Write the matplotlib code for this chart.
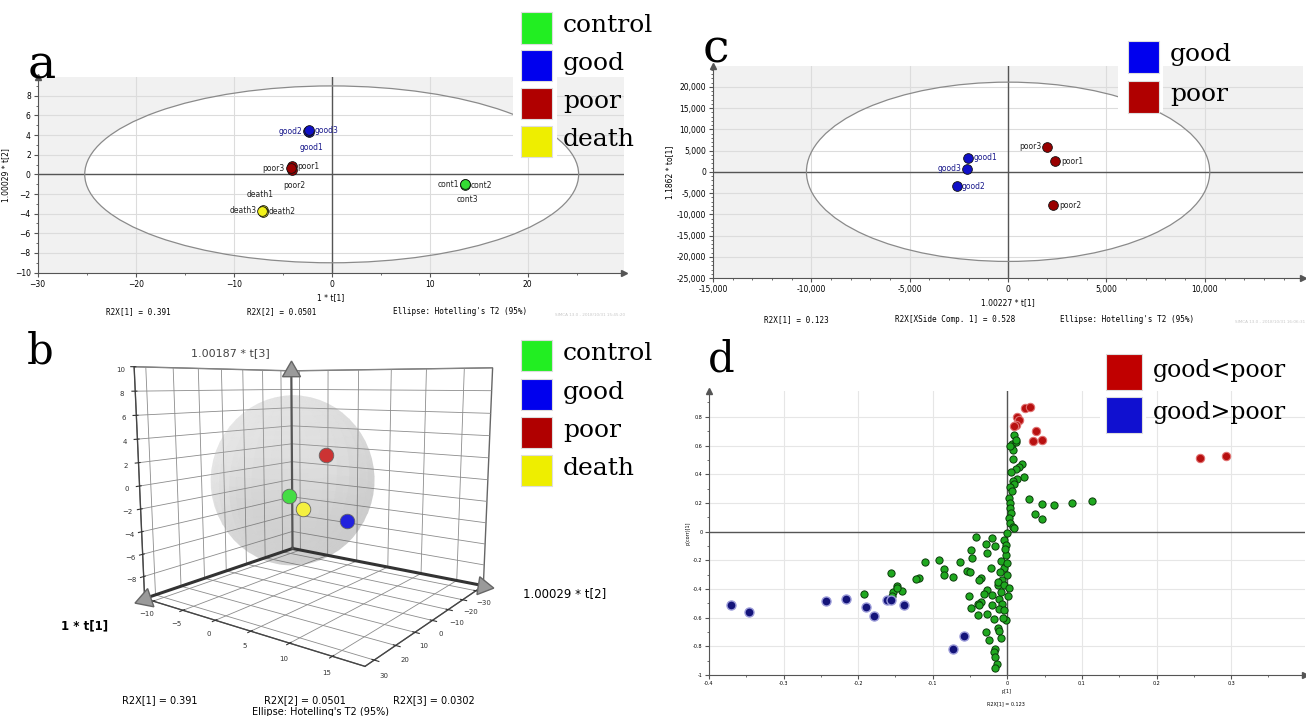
import numpy as np
import matplotlib
matplotlib.use('Agg')
import matplotlib.pyplot as plt
from matplotlib.patches import Ellipse, Rectangle
from matplotlib.ticker import MultipleLocator, FuncFormatter

W, H = 1306, 716

# ---------------- data ----------------
# panel a : PCA scores t[1] / t[2]
a_names = ['cont1', 'cont2', 'cont3', 'good1', 'good2', 'good3',
           'poor1', 'poor2', 'poor3', 'death1', 'death2', 'death3']
a_group = ['control'] * 3 + ['good'] * 3 + ['poor'] * 3 + ['death'] * 3
a_t1 = [13.6, 13.6, 13.6, -2.3, -2.4, -2.3, -4.1, -4.1, -4.2, -7.0, -7.0, -7.1]
a_t2 = [-1.0, -1.1, -1.0, 4.3, 4.4, 4.5, 0.8, 0.4, 0.6, -3.6, -3.8, -3.7]
a_label_pos = ['left', 'right', 'below', 'below', 'left', 'right',
               'right', 'below', 'left', 'above', 'right', 'left']
a_ellipse = (25.2, 9.0)

# panel b : 3D scores (group centres)
b_groups = ['control', 'good', 'poor', 'death']
b_t1 = [13.6, -2.3, -4.1, -7.0]
b_t2 = [3.6, 7.0, 3.6, -0.7]
b_t3 = [-0.5, -3.2, 2.4, -3.0]
b_ellipsoid = (25.2, 9.5, 7.6)

# panel c : OPLS-DA scores
c_names = ['good1', 'good2', 'good3', 'poor1', 'poor2', 'poor3']
c_group = ['good'] * 3 + ['poor'] * 3
c_t1 = [-2040, -2620, -2100, 2400, 2300, 1970]
c_to1 = [3300, -3400, 700, 2500, -7900, 5900]
c_label_pos = ['right', 'right', 'left', 'right', 'right', 'left']
c_ellipse = (10250, 21100)

# panel d : S-plot  p[1] vs p(corr)[1]
d_green_x = [0.006, 0.011, 0.007, 0.007, 0.020, 0.016, 0.011, 0.005, 0.022, 0.013,
             0.008, 0.009, 0.004, 0.006, 0.029, 0.047, 0.063, 0.086, 0.114, 0.037,
             0.046, 0.002, 0.004, 0.004, 0.005, 0.002, 0.004, 0.007, 0.009, 0.000,
             -0.004, -0.020, -0.029, -0.016, -0.002, 0.009, 0.012, 0.004,
             -0.111, -0.092, -0.063, -0.047, -0.085, -0.085, -0.054, -0.050, -0.073, -0.119,
             -0.122, -0.156, -0.148, -0.141, -0.153, -0.154, -0.036, -0.038, -0.022, -0.027,
             -0.049, -0.013, -0.027, -0.031, -0.020, -0.052, -0.036, -0.040, -0.049, -0.020,
             -0.027, -0.018, -0.011, -0.007, -0.011, -0.029, -0.025, -0.013, -0.011, -0.009,
             -0.016, -0.018, -0.014, -0.016, -0.002, -0.009, -0.005, -0.001, -0.007, -0.013,
             -0.004, 0.000, -0.192, -0.148, -0.042, -0.040, -0.038, -0.003, 0.001, -0.004,
             -0.002, -0.008, -0.006, -0.010, 0.002, -0.016]
d_green_y = [0.613, 0.625, 0.566, 0.507, 0.468, 0.449, 0.437, 0.413, 0.383, 0.366,
             0.355, 0.331, 0.308, 0.285, 0.225, 0.195, 0.186, 0.200, 0.216, 0.125,
             0.085, 0.237, 0.202, 0.167, 0.132, 0.096, 0.061, 0.031, 0.026, -0.009,
             -0.056, -0.044, -0.087, -0.103, -0.096, 0.672, 0.640, 0.600,
             -0.213, -0.197, -0.209, -0.185, -0.260, -0.303, -0.275, -0.284, -0.319, -0.321,
             -0.331, -0.291, -0.377, -0.413, -0.420, -0.448, -0.321, -0.338, -0.251, -0.150,
             -0.127, -0.373, -0.408, -0.432, -0.444, -0.448, -0.490, -0.502, -0.533, -0.514,
             -0.573, -0.608, -0.467, -0.502, -0.537, -0.701, -0.754, -0.673, -0.690, -0.744,
             -0.819, -0.842, -0.925, -0.948, -0.162, -0.208, -0.256, -0.303, -0.338, -0.349,
             -0.373, -0.220, -0.432, -0.392, -0.037, -0.580, -0.509, -0.120, -0.450, -0.550,
             -0.620, -0.420, -0.600, -0.280, -0.390, -0.877]
d_red_x = [0.023, 0.031, 0.013, 0.016, 0.011, 0.009, 0.038, 0.034, 0.046, 0.258, 0.293]
d_red_y = [0.864, 0.869, 0.800, 0.780, 0.742, 0.735, 0.700, 0.630, 0.641, 0.512, 0.528]
d_blue_x = [-0.371, -0.347, -0.243, -0.216, -0.190, -0.179, -0.162, -0.156, -0.139, -0.073, -0.058]
d_blue_y = [-0.514, -0.561, -0.486, -0.467, -0.525, -0.589, -0.479, -0.479, -0.509, -0.819, -0.730]

# colours
LEG_COLORS = {'control': '#22ee22', 'good': '#0000ee', 'poor': '#b00000', 'death': '#eeee00',
              'good<poor': '#c00000', 'good>poor': '#1010d0'}
PT_COLORS = {'control': '#33dd33', 'good': '#1010c8', 'poor': '#990000', 'death': '#f2f21a'}
B_COLORS = {'control': '#44dd44', 'good': '#2222dd', 'poor': '#cc3333', 'death': '#f4f040'}
GRID = '#dcdcdc'
AXC = '#555555'


def px_rect(x0, y0, x1, y1):
    return [x0 / W, 1 - y1 / H, (x1 - x0) / W, (y1 - y0) / H]


def fig_text(fig, x, y, s, **kw):
    fig.text(x / W, 1 - y / H, s, **kw)


def legend(fig, x, y, entries, box=31, step=38, size=18, bg=None):
    """Coloured squares + serif names, like the pasted legends"""
    if bg is not None:
        bx0, by0, bx1, by1 = bg
        fig.add_artist(Rectangle((bx0 / W, 1 - by1 / H), (bx1 - bx0) / W, (by1 - by0) / H,
                                 transform=fig.transFigure, facecolor='white',
                                 edgecolor='none', zorder=2))
    for i, name in enumerate(entries):
        cy = y + i * step
        fig.add_artist(Rectangle((x / W, 1 - (cy + box / 2) / H), box / W, box / H,
                                 transform=fig.transFigure, facecolor=LEG_COLORS[name],
                                 edgecolor='#dddddd', linewidth=0.8, zorder=3))
        fig_text(fig, x + box + 11, cy - 2, name, fontsize=size, family='DejaVu Serif',
                 va='center', ha='left', zorder=4)


def arrows(ax):
    ax.plot(1, 0, '>', color=AXC, ms=4, transform=ax.transAxes, clip_on=False)
    ax.plot(0, 1, '^', color=AXC, ms=4, transform=ax.transAxes, clip_on=False)


def simca_frame(ax, gray=True):
    for side in ('top', 'right'):
        ax.spines[side].set_visible(False)
    for side in ('left', 'bottom'):
        ax.spines[side].set_color(AXC)
        ax.spines[side].set_linewidth(0.8)
    ax.set_facecolor('#f1f1f1' if gray else 'white')
    ax.set_axisbelow(True)
    ax.grid(True, color=GRID, linewidth=0.8)
    ax.axhline(0, color=AXC, lw=1.0, zorder=1)
    ax.axvline(0, color=AXC, lw=1.0, zorder=1)
    ax.tick_params(which='both', direction='out', color=AXC, labelsize=5.5, pad=2)
    ax.tick_params(which='major', length=3)
    ax.tick_params(which='minor', length=1.5)
    arrows(ax)


def label_points(ax, xs, ys, names, pos, colors, size=5.5):
    offs = {'left': ((-4, 0), 'right', 'center'), 'right': ((4, 0), 'left', 'center'),
            'below': ((2, -11), 'center', 'center'), 'above': ((-2, 11), 'center', 'center')}
    for x, y, n, p, c in zip(xs, ys, names, pos, colors):
        (dx, dy), ha, va = offs[p]
        ax.annotate(n, (x, y), xytext=(dx, dy), textcoords='offset points',
                    ha=ha, va=va, fontsize=size, color=c)


fig = plt.figure(figsize=(W / 100, H / 100), dpi=100)
fig.patch.set_facecolor('white')

# ---------------- panel a ----------------
ax = fig.add_axes(px_rect(37.7, 76.6, 623.7, 272.6))
simca_frame(ax)
ax.set_xlim(-30, 29.8)
ax.set_ylim(-10, 9.95)
ax.xaxis.set_major_locator(MultipleLocator(10))
ax.xaxis.set_minor_locator(MultipleLocator(5))
ax.yaxis.set_major_locator(MultipleLocator(2))
ax.yaxis.set_minor_locator(MultipleLocator(1))
ax.add_patch(Ellipse((0, 0), 2 * a_ellipse[0], 2 * a_ellipse[1], facecolor='white',
                     edgecolor='none', zorder=0.2))
ax.add_patch(Ellipse((0, 0), 2 * a_ellipse[0], 2 * a_ellipse[1], facecolor='none',
                     edgecolor='#8a8a8a', lw=0.9, zorder=2))
for g in ['control', 'good', 'poor', 'death']:
    idx = [i for i, gg in enumerate(a_group) if gg == g]
    ax.plot([a_t1[i] for i in idx], [a_t2[i] for i in idx], 'o', ms=7,
            color=PT_COLORS[g], mec='#111111', mew=0.6, zorder=4)
label_points(ax, a_t1, a_t2, a_names, a_label_pos,
             ['#1a1a8c' if g == 'good' else '#222222' for g in a_group])
ax.set_xlabel('1 * t[1]', fontsize=5.5, labelpad=3)
ax.set_ylabel('1.00029 * t[2]', fontsize=5.5, labelpad=3)
fig_text(fig, 138, 312, 'R2X[1] = 0.391', fontsize=5.5, family='DejaVu Sans Mono', ha='center', va='center')
fig_text(fig, 282, 312, 'R2X[2] = 0.0501', fontsize=5.5, family='DejaVu Sans Mono', ha='center', va='center')
fig_text(fig, 460, 312, "Ellipse: Hotelling's T2 (95%)", fontsize=5.5, family='DejaVu Sans Mono',
         ha='center', va='center')
fig_text(fig, 590, 315, 'SIMCA 13.0 - 2018/10/31 15:45:20', fontsize=3, color='#c8c8c8',
         ha='center', va='center')
legend(fig, 521, 28, ['control', 'good', 'poor', 'death'], step=37.7, bg=(513, 0, 557, 158))
fig_text(fig, 42, 66, 'a', fontsize=34, family='DejaVu Serif', ha='center', va='center')

# ---------------- panel c ----------------
ax = fig.add_axes(px_rect(713, 66, 1303, 278))
simca_frame(ax)
ax.set_xlim(-15000, 14990)
ax.set_ylim(-25000, 24900)
ax.xaxis.set_major_locator(MultipleLocator(5000))
ax.xaxis.set_minor_locator(MultipleLocator(1000))
ax.yaxis.set_major_locator(MultipleLocator(5000))
ax.yaxis.set_minor_locator(MultipleLocator(1000))
comma = FuncFormatter(lambda v, p: f'{v:,.0f}')
ax.xaxis.set_major_formatter(comma)
ax.yaxis.set_major_formatter(comma)
ax.add_patch(Ellipse((0, 0), 2 * c_ellipse[0], 2 * c_ellipse[1], facecolor='white',
                     edgecolor='none', zorder=0.2))
ax.add_patch(Ellipse((0, 0), 2 * c_ellipse[0], 2 * c_ellipse[1], facecolor='none',
                     edgecolor='#8a8a8a', lw=0.9, zorder=2))
for g in ['good', 'poor']:
    idx = [i for i, gg in enumerate(c_group) if gg == g]
    ax.plot([c_t1[i] for i in idx], [c_to1[i] for i in idx], 'o', ms=7,
            color=PT_COLORS[g], mec='#111111', mew=0.6, zorder=4)
label_points(ax, c_t1, c_to1, c_names, c_label_pos,
             ['#1a1a8c' if g == 'good' else '#222222' for g in c_group])
ax.set_xlabel('1.00227 * t[1]', fontsize=5.5, labelpad=3)
ax.set_ylabel('1.1862 * to[1]', fontsize=5.5, labelpad=2)
fig_text(fig, 796, 320, 'R2X[1] = 0.123', fontsize=5.5, family='DejaVu Sans Mono', ha='center', va='center')
fig_text(fig, 955, 320, 'R2X[XSide Comp. 1] = 0.528', fontsize=5.5, family='DejaVu Sans Mono',
         ha='center', va='center')
fig_text(fig, 1127, 320, "Ellipse: Hotelling's T2 (95%)", fontsize=5.5, family='DejaVu Sans Mono',
         ha='center', va='center')
fig_text(fig, 1270, 322, 'SIMCA 13.0 - 2018/10/31 16:06:31', fontsize=3, color='#c8c8c8',
         ha='center', va='center')
legend(fig, 1128, 57, ['good', 'poor'], step=40, bg=(1118, 60, 1163, 112))
fig_text(fig, 716, 50, 'c', fontsize=34, family='DejaVu Serif', ha='center', va='center')

# ---------------- panel d ----------------
ax = fig.add_axes(px_rect(709, 391, 1305, 675))
simca_frame(ax, gray=False)
ax.grid(True, color='#e6e6e6', linewidth=0.8)
ax.set_xlim(-0.4, 0.399)
ax.set_ylim(-1, 0.98)
ax.xaxis.set_major_locator(MultipleLocator(0.1))
ax.xaxis.set_minor_locator(MultipleLocator(0.05))
ax.yaxis.set_major_locator(MultipleLocator(0.2))
ax.yaxis.set_minor_locator(MultipleLocator(0.1))
ax.xaxis.set_major_formatter(FuncFormatter(lambda v, p: '0' if abs(v) < 1e-9 else f'{v:.1f}'))
ax.yaxis.set_major_formatter(FuncFormatter(lambda v, p: '0' if abs(v) < 1e-9 else ('-1' if v < -0.99 else f'{v:.1f}')))
ax.tick_params(labelsize=3.5, pad=1.5)
ax.plot(d_green_x, d_green_y, 'o', ms=5.2, color='#1fa81f', mec='#0b3d0b', mew=0.7, zorder=4)
ax.plot(d_blue_x, d_blue_y, 'o', ms=6.5, color='#14147a', mec='#9a9ad8', mew=1.0, zorder=5)
ax.plot(d_red_x, d_red_y, 'o', ms=6.0, color='#b81010', mec='#e07070', mew=0.8, zorder=5)
ax.set_xlabel('p[1]', fontsize=3.5, labelpad=2)
ax.set_ylabel('p(corr)[1]', fontsize=3.5, labelpad=2)
fig_text(fig, 1006, 704, 'R2X[1] = 0.123', fontsize=3.5, ha='center', va='center')
legend(fig, 1106, 372, ['good<poor', 'good>poor'], box=36, step=43, size=17, bg=(1100, 350, 1146, 436))
fig_text(fig, 721, 360, 'd', fontsize=30, family='DejaVu Serif', ha='center', va='center')

# ---------------- panel b (3D) ----------------
ax3 = fig.add_axes(px_rect(49, 295, 579, 681), projection='3d', computed_zorder=False)
t1_lim, t2_lim, t3_lim = (-36, 34), (-11.5, 18.5), (-10, 10)
ax3.set_xlim(*t1_lim)
ax3.set_ylim(*t2_lim)
ax3.set_zlim(*t3_lim)
ax3.set_proj_type('persp', focal_length=0.3)
ax3.view_init(elev=9, azim=36)
ax3.set_box_aspect((1.7, 1.85, 1.63), zoom=1.05)
ax3.set_xticks(range(-30, 31, 10))
ax3.set_yticks(range(-10, 16, 5))
ax3.set_zticks(range(-8, 11, 2))
for axis in (ax3.xaxis, ax3.yaxis, ax3.zaxis):
    axis.set_pane_color((1, 1, 1, 1))
    axis.pane.set_edgecolor('#666666')
    axis._axinfo['grid'].update(color='#8c8c8c', linewidth=0.6)
    axis.line.set_color('#444444')
ax3.tick_params(labelsize=5, pad=-3, colors='#333333')
ax3.patch.set_alpha(0)

# Hotelling ellipsoid
u = np.linspace(0, 2 * np.pi, 60)
v = np.linspace(0, np.pi, 30)
ex = b_ellipsoid[0] * np.outer(np.cos(u), np.sin(v))
ey = b_ellipsoid[1] * np.outer(np.sin(u), np.sin(v))
ez = b_ellipsoid[2] * np.outer(np.ones_like(u), np.cos(v))
ax3.plot_surface(ex, ey, ez, color='#d6d6d6', alpha=0.17, linewidth=0, shade=True, zorder=2)

# frame edges + cone tips
ax3.plot([t1_lim[0], t1_lim[1]], [t2_lim[0]] * 2, [t3_lim[0]] * 2, color='#333333', lw=2.2, zorder=3)
ax3.plot([t1_lim[0]] * 2, [t2_lim[0], t2_lim[1]], [t3_lim[0]] * 2, color='#333333', lw=2.2, zorder=3)
ax3.plot([t1_lim[0]] * 2, [t2_lim[0]] * 2, [t3_lim[0], t3_lim[1]], color='#555555', lw=1.6, zorder=3)
ax3.plot([t1_lim[1]], [t2_lim[0]], [t3_lim[0]], marker=(3, 0, 109), ms=16, color='#9a9a9a',
         mec='#666666', zorder=6)
ax3.plot([t1_lim[0]], [t2_lim[1]], [t3_lim[0]], marker=(3, 0, -99), ms=15, color='#9a9a9a',
         mec='#666666', zorder=6)
ax3.plot([t1_lim[0]], [t2_lim[0]], [t3_lim[1]], marker=(3, 0, 0), ms=15, color='#9a9a9a',
         mec='#666666', zorder=6)

for g, x, y, z in zip(b_groups, b_t1, b_t2, b_t3):
    ax3.scatter([x], [y], [z], s=110, color=B_COLORS[g], edgecolors='#666666', linewidths=0.6,
                depthshade=False, zorder=8)

fig_text(fig, 230, 353, '1.00187 * t[3]', fontsize=8, color='#444444', ha='center', va='center')
fig_text(fig, 85, 626, '1 * t[1]', fontsize=8.5, weight='bold', ha='center', va='center')
fig_text(fig, 565, 594, '1.00029 * t[2]', fontsize=8.5, ha='center', va='center')
fig_text(fig, 160, 700, 'R2X[1] = 0.391', fontsize=7, ha='center', va='center')
fig_text(fig, 305, 700, 'R2X[2] = 0.0501', fontsize=7, ha='center', va='center')
fig_text(fig, 434, 700, 'R2X[3] = 0.0302', fontsize=7, ha='center', va='center')
fig_text(fig, 320, 712, "Ellipse: Hotelling's T2 (95%)", fontsize=7, ha='center', va='center')
legend(fig, 521, 356, ['control', 'good', 'poor', 'death'], step=38.3)
fig_text(fig, 40, 352, 'b', fontsize=30, family='DejaVu Serif', ha='center', va='center')

fig.savefig('out.png', dpi=100)
